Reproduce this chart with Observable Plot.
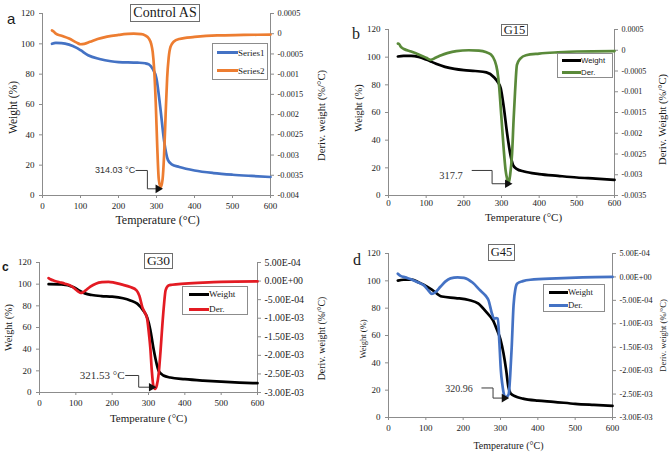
<!DOCTYPE html>
<html><head><meta charset="utf-8">
<script src="https://cdn.jsdelivr.net/npm/d3@7"></script>
<script src="https://cdn.jsdelivr.net/npm/@observablehq/plot@0.6"></script>
<style>
body{margin:0;background:#fff;}
#fig{position:relative;width:669px;height:452px;overflow:hidden;background:#fff;font-family:"Liberation Serif",serif;color:#1a1a1a;}
.panel{position:absolute;}
.panel svg, .panel svg text{font-family:"Liberation Serif",serif !important;}
.panel svg .sans text, .panel svg g.sans text{font-family:"Liberation Sans",sans-serif !important;}
.abs{position:absolute;line-height:1;white-space:nowrap;}
.title{position:absolute;border:1px solid #6e6e6e;background:#fff;display:flex;align-items:center;justify-content:center;box-sizing:border-box;line-height:1;}
.legend{position:absolute;border:1px solid #8c8c8c;background:#fff;box-sizing:border-box;}
.sw{position:absolute;height:3px;}
.lt{position:absolute;line-height:1;transform:translateY(-50%);white-space:nowrap;}
</style></head><body><div id="fig"></div>
<script>
const xTicks = [0, 100, 200, 300, 400, 500, 600];
const yTicks = [0, 20, 40, 60, 80, 100, 120];

// ---- Panel a: Control AS ----
const aTemp = [25,35,50,70,90,100,120,150,180,200,250,270,280,290,300,310,320,330,340,360,400,450,500,550,600];
const aWeight = [100,100.6,100.5,99.5,97.3,95.8,92.5,90,88.5,88,87.6,87.2,86.5,83.5,77,58,36,23.5,20.5,18.8,16.5,14.8,13.7,12.9,12.2];
const aDerTemp = [25,30,35,50,70,90,100,110,125,145,170,200,240,260,270,280,286,290,294,298,302,306,311,316,320,324,328,332,337,345,360,400,460,530,600];
const aDer = [0.00008,0.00005,0,-0.00005,-0.00012,-0.00022,-0.00026,-0.00025,-0.0002,-0.00013,-0.00007,-0.00003,0,-0.00001,-0.00004,-0.00012,-0.00025,-0.00045,-0.0009,-0.0017,-0.0028,-0.0036,-0.0038,-0.0036,-0.003,-0.002,-0.0011,-0.0006,-0.00032,-0.0002,-0.00013,-0.00008,-0.00004,-0.00003,-0.00002];
const aDerTicks = [0.0005,0,-0.0005,-0.001,-0.0015,-0.002,-0.0025,-0.003,-0.0035,-0.004];
const aDerTickLabels = ["0.0005","0","-0.0005","-0.001","-0.0015","-0.002","-0.0025","-0.003","-0.0035","-0.004"];
const aCallT = [246, 276, 276, 304];
const aCallW = [16.5, 16.5, 4.4, 4.4];

// ---- Panel b: G15 ----
const bTemp = [25,40,60,80,100,115,130,150,175,200,230,260,280,290,298,306,315,324,331,340,360,400,450,500,550,600];
const bWeight = [100.5,101,101,100.2,98.3,96.6,94.8,93,91.5,90.6,90,89,85.5,82,77.5,64,44.6,29,21.8,19.3,17.3,15.5,14.2,13,12.2,11.3];
const bDerTemp = [25,28,33,41,60,80,100,112,125,140,156,180,213,240,260,272,282,289,294,298,302,306,311,315,319,323,328,332,336,341,350,365,400,450,500,600];
const bDer = [0.00016,0.00015,0.00008,0.00003,-0.00003,-0.0001,-0.00018,-0.00023,-0.00018,-0.00012,-0.00007,-0.00002,0,-0.00001,-0.00005,-0.0001,-0.00025,-0.0005,-0.0009,-0.0014,-0.0019,-0.0024,-0.0029,-0.0031,-0.0032,-0.003,-0.0025,-0.0017,-0.001,-0.00035,-0.0002,-0.00012,-0.00008,-0.00005,-0.00003,-0.00002];
const bDerTicks = [0.0005,0,-0.0005,-0.001,-0.0015,-0.002,-0.0025,-0.003,-0.0035];
const bDerTickLabels = ["0.0005","0","-0.0005","-0.001","-0.0015","-0.002","-0.0025","-0.003","-0.0035"];
const bCallT = [222, 275, 275, 316];
const bCallW = [18.1, 18.1, 8.5, 8.5];

// ---- Panel c: G30 ----
const cTemp = [25,60,94,110,125,144,170,200,230,250,269,285,296,305,313,320,328,341,360,400,450,500,550,600];
const cWeight = [100,99.8,97.2,94,91.5,90,89,88.5,87,85,82,76,69.5,58,42,30,20,15.7,13.8,12.3,11,10,9.2,8.6];
const cDerTemp = [25,30,40,55,70,90,105,113,120,127,140,155,172,190,205,225,250,267,275,283,290,296,301,305,309,313,318,323,328,333,338,343,347,355,365,400,450,500,600];
const cDer = [0.00008,0.00005,0.00001,-0.00003,-0.00007,-0.00015,-0.00027,-0.00032,-0.0003,-0.00025,-0.00015,-0.00007,-0.00003,-0.00002,-0.00004,-0.00009,-0.00016,-0.00025,-0.0004,-0.0007,-0.00085,-0.001,-0.0014,-0.0018,-0.0024,-0.0028,-0.0029,-0.0028,-0.0025,-0.0019,-0.0012,-0.0006,-0.00025,-0.00012,-0.0001,-0.00007,-0.00004,-0.00002,-0.00001];
const cdDerTicks = [0.0005,0,-0.0005,-0.001,-0.0015,-0.002,-0.0025,-0.003];
const cdDerTickLabels = ["5.00E-04","0.00E+00","-5.00E-04","-1.00E-03","-1.50E-03","-2.00E-03","-2.50E-03","-3.00E-03"];
const cCallT = [237, 273, 273, 308];
const cCallW = [15.7, 15.7, 4.9, 4.9];

// ---- Panel d: G45 ----
const dTemp = [25,40,63,80,94,116,143,180,215,240,264,280,290,300,308,315,321,327,339,360,400,442,500,550,600];
const dWeight = [100.2,100.8,100.9,99,97.2,93.6,88.5,87.4,86,83.5,76.5,71,64.5,57,47,35,22.5,17.6,15.5,13.8,12.3,11.5,10,9.2,8.5];
const dDerTemp = [25,31,45,63,80,95,108,116,125,139,152,166,185,202,225,246,260,268,277,283,288,293,297,301,305,309,314,318,322,326,330,335,340,345,360,380,450,520,600];
const dDer = [0.00007,0.00003,-0.00001,-0.00006,-0.00012,-0.00018,-0.0003,-0.00036,-0.00033,-0.00021,-0.0001,-0.00003,-0.00001,-0.00002,-0.00012,-0.00029,-0.0004,-0.0005,-0.00078,-0.00089,-0.00088,-0.00089,-0.0014,-0.002,-0.0023,-0.0025,-0.00258,-0.00255,-0.0025,-0.0021,-0.0015,-0.0006,-0.00025,-0.00014,-0.00009,-0.00006,-0.00003,-0.00001,0];
const dCallT = [250, 280, 280, 310];
const dCallW = [21.6, 21.6, 14.2, 14.2];

const AXIS = "#8c8c8c", INK = "#1a1a1a", SERIF = "Liberation Serif";

function panel(c) {
  const toW = v => (v - c.dMin) / (c.dMax - c.dMin) * 120;
  const wRows = c.temps.map((t, i) => ({t, w: c.weights[i]}));
  const dRows = c.dTemps.map((t, i) => ({t, v: c.dVals[i]}));
  const dPos = c.dTicks.map(toW);
  const dLab = new Map(dPos.map((p, i) => [p, c.dLabels[i]]));
  const call = c.callT.map((t, i) => ({t, w: c.callW[i]}));
  const tip = call[call.length - 1];
  const [mL, mR, mT, mB] = c.m;
  const svg = Plot.plot({
    width: c.width, height: c.height,
    marginLeft: mL, marginRight: mR, marginTop: mT, marginBottom: mB,
    style: `font-family: '${SERIF}', serif; font-size: ${c.tickFont}px; background: transparent; color: ${INK}; overflow: visible;`,
    x: {domain: [0, 600]},
    y: {domain: [0, 120]},
    marks: [
      Plot.ruleX([0, 600], {stroke: AXIS}),
      Plot.ruleY([0], {stroke: AXIS}),
      Plot.axisX({ticks: xTicks, tickSize: 3, tickPadding: c.xPad, stroke: AXIS, fill: INK, label: null, fontSize: c.tickFont, fontFamily: SERIF}),
      Plot.axisY({ticks: yTicks, tickSize: 3, tickPadding: 5, stroke: AXIS, fill: INK, label: null, fontSize: c.tickFont, fontFamily: SERIF}),
      Plot.axisY({anchor: "right", ticks: dPos, tickFormat: p => dLab.get(p), tickSize: 3, tickPadding: 4, stroke: AXIS, fill: INK, label: null, fontSize: c.rTickFont, fontFamily: SERIF}),
      Plot.line(wRows, {x: "t", y: "w", stroke: c.wColor, strokeWidth: 2.7, curve: "monotone-x"}),
      Plot.line(dRows, {x: "t", y: d => toW(d.v), stroke: c.dColor, strokeWidth: 2.7, curve: "monotone-x"}),
      Plot.line(call, {x: "t", y: "w", stroke: "#3a3a3a", strokeWidth: 1}),
      Plot.dot([tip], {x: "t", y: "w", symbol: "triangle", rotate: 90, r: 3.2, fill: "#111", stroke: null}),
      Plot.text([c.callLabel], {x: () => c.callLabelT, y: () => c.callLabelW, text: d => d, textAnchor: "end", lineAnchor: "middle", fontSize: c.callFont, fontFamily: c.callFamily, fill: "#333", className: c.callFamily === SERIF ? undefined : "sans"}),
      Plot.text([c.yLabel], {text: d => d, frameAnchor: "left", rotate: -90, textAnchor: "middle", lineAnchor: "middle", dx: c.yl[0], dy: c.yl[1], fontSize: c.yFont, fontFamily: SERIF}),
      Plot.text([c.rLabel], {text: d => d, frameAnchor: "right", rotate: -90, textAnchor: "middle", lineAnchor: "middle", dx: c.rl[0], dy: c.rl[1], fontSize: c.rFont, fontFamily: SERIF}),
      Plot.text([c.xLabel], {text: d => d, frameAnchor: "bottom", textAnchor: "middle", lineAnchor: "middle", dx: c.xl[0], dy: c.xl[1], fontSize: c.xFont, fontFamily: SERIF})
    ]
  });
  const div = document.createElement("div");
  div.className = "panel";
  div.style.left = c.left + "px"; div.style.top = c.top + "px";
  div.style.width = c.width + "px"; div.style.height = c.height + "px";
  div.appendChild(svg);
  document.getElementById("fig").appendChild(div);
}

function addText(txt, left, top, size, family, weight) {
  const e = document.createElement("div");
  e.className = "abs"; e.textContent = txt;
  Object.assign(e.style, {left: left + "px", top: top + "px", fontSize: size + "px", fontFamily: family, fontWeight: weight || "normal"});
  document.getElementById("fig").appendChild(e);
}
function addTitle(txt, box, size) {
  const e = document.createElement("div");
  e.className = "title"; e.textContent = txt;
  Object.assign(e.style, {left: box[0] + "px", top: box[1] + "px", width: box[2] + "px", height: box[3] + "px", fontSize: size + "px"});
  document.getElementById("fig").appendChild(e);
}
function addLegend(box, items, size, family) {
  const e = document.createElement("div");
  e.className = "legend";
  Object.assign(e.style, {left: box[0] + "px", top: box[1] + "px", width: box[2] + "px", height: box[3] + "px"});
  for (const it of items) {
    const s = document.createElement("div");
    s.className = "sw";
    Object.assign(s.style, {left: it.x1 + "px", width: (it.x2 - it.x1) + "px", top: (it.y - 1.5) + "px", background: it.color});
    e.appendChild(s);
    const t = document.createElement("div");
    t.className = "lt"; t.textContent = it.label;
    Object.assign(t.style, {left: it.x2 + "px", top: it.y + "px", fontSize: size + "px", fontFamily: family});
    e.appendChild(t);
  }
  document.getElementById("fig").appendChild(e);
}

const yLab = "Weight (%)", xLab = "Temperature (°C)";

panel({left: 0, top: 0, width: 335, height: 226, m: [42, 65, 13, 31],
  temps: aTemp, weights: aWeight, dTemps: aDerTemp, dVals: aDer, dMin: -0.004, dMax: 0.0005,
  dTicks: aDerTicks, dLabels: aDerTickLabels, wColor: "#4472c4", dColor: "#ed7d31",
  callT: aCallT, callW: aCallW, callLabel: "314.03 °C", callLabelT: 244, callLabelW: 16.5, callFont: 9, callFamily: "Liberation Sans",
  tickFont: 9, rTickFont: 8.3, xPad: 4,
  yLabel: yLab, yl: [-29, 3], yFont: 11.5, rLabel: "Deriv. weight (%/°C)", rl: [51, 11], rFont: 10.7, xLabel: xLab, xl: [1, 25], xFont: 12});

panel({left: 335, top: 0, width: 334, height: 226, m: [53, 55, 29, 31],
  temps: bTemp, weights: bWeight, dTemps: bDerTemp, dVals: bDer, dMin: -0.0035, dMax: 0.0005,
  dTicks: bDerTicks, dLabels: bDerTickLabels, wColor: "#000", dColor: "#5a8a3a",
  callT: bCallT, callW: bCallW, callLabel: "317.7", callLabelT: 197, callLabelW: 14.5, callFont: 10.4, callFamily: SERIF,
  tickFont: 9, rTickFont: 8, xPad: 1,
  yLabel: yLab, yl: [-29.5, -4.5], yFont: 10.3, rLabel: "Deriv. Weight (%/°C)", rl: [48.5, 7], rFont: 10.5, xLabel: xLab, xl: [22, 21.5], xFont: 11});

panel({left: 0, top: 226, width: 335, height: 226, m: [39, 78, 36, 60],
  temps: cTemp, weights: cWeight, dTemps: cDerTemp, dVals: cDer, dMin: -0.003, dMax: 0.0005,
  dTicks: cdDerTicks, dLabels: cdDerTickLabels, wColor: "#000", dColor: "#e31b23",
  callT: cCallT, callW: cCallW, callLabel: "321.53 °C", callLabelT: 234, callLabelW: 15.7, callFont: 11, callFamily: SERIF,
  tickFont: 9, rTickFont: 9.8, xPad: 4,
  yLabel: yLab, yl: [-30.5, 0], yFont: 10.2, rLabel: "Deriv. weight (%/°C)", rl: [64, 11], rFont: 9.8, xLabel: xLab, xl: [0, 25.7], xFont: 11});

panel({left: 335, top: 226, width: 334, height: 226, m: [53, 57, 27, 35],
  temps: dTemp, weights: dWeight, dTemps: dDerTemp, dVals: dDer, dMin: -0.003, dMax: 0.0005,
  dTicks: cdDerTicks, dLabels: cdDerTickLabels, wColor: "#000", dColor: "#4472c4",
  callT: dCallT, callW: dCallW, callLabel: "320.96", callLabelT: 226, callLabelW: 20.9, callFont: 10, callFamily: SERIF,
  tickFont: 9, rTickFont: 8.2, xPad: 4,
  yLabel: yLab, yl: [-25.5, 3.5], yFont: 8.5, rLabel: "Deriv. weight (%/°C)", rl: [51, 0], rFont: 8.5, xLabel: xLab, xl: [8, 28.6], xFont: 10});

// titles, panel letters, legends
addTitle("Control AS", [130, 4, 70, 18], 14);
addTitle("G15", [501, 24, 27, 12], 12.5);
addTitle("G30", [144, 253, 29, 16], 13.5);
addTitle("G45", [488, 244, 27, 17], 12.5);

addText("a", 7, 11.3, 15, "Liberation Sans");
addText("b", 352, 25.6, 16, "Liberation Serif");
addText("c", 2, 260.8, 12, "Liberation Sans", "bold");
addText("d", 353, 251.6, 16, "Liberation Serif");

addLegend([212, 43, 56, 37], [
  {label: "Series1", color: "#4472c4", x1: 4, x2: 25, y: 8.5},
  {label: "Series2", color: "#ed7d31", x1: 4, x2: 25, y: 26.5}], 9, "Liberation Serif");
addLegend([557, 53, 56, 25], [
  {label: "Weight", color: "#000", x1: 4, x2: 23, y: 6.5},
  {label: "Der.", color: "#5a8a3a", x1: 4, x2: 23, y: 18.5}], 7.8, "Liberation Sans");
addLegend([182, 286, 66, 29], [
  {label: "Weight", color: "#000", x1: 6, x2: 26, y: 7.5},
  {label: "Der.", color: "#e31b23", x1: 6, x2: 26, y: 22.5}], 9.2, "Liberation Serif");
addLegend([543, 284, 62, 28], [
  {label: "Weight", color: "#000", x1: 5, x2: 24, y: 7},
  {label: "Der.", color: "#4472c4", x1: 5, x2: 24, y: 20}], 8.7, "Liberation Serif");
</script>
</body></html>
